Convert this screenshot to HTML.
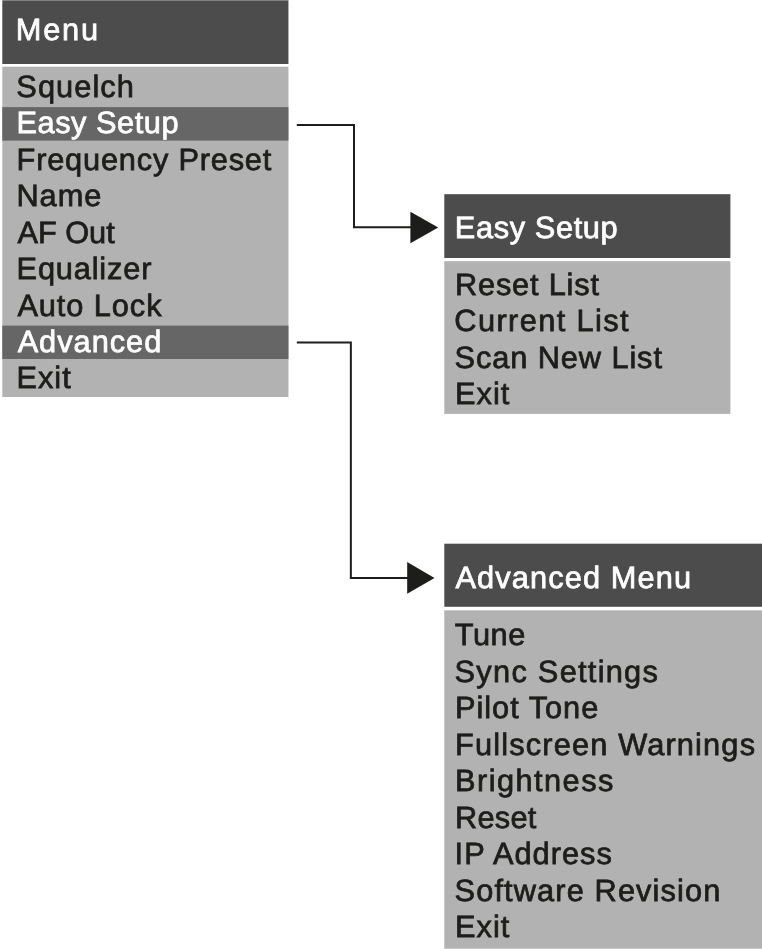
<!DOCTYPE html>
<html lang="en">
<head>
<meta charset="utf-8">
<title>Menu structure</title>
<style>
html,body{margin:0;padding:0;background:#fff;}
body{width:762px;height:949px;position:relative;overflow:hidden;}
#art{position:absolute;left:0;top:0;width:762px;height:949px;display:block;}
#txt{position:absolute;left:0;top:0;width:762px;height:949px;will-change:transform;
  font-family:"Liberation Sans",sans-serif;font-size:30.75px;line-height:30.75px;text-rendering:geometricPrecision;}
#txt ul{margin:0;padding:0;list-style:none;}
#txt h2,#txt li{margin:0;padding:0;font-size:inherit;font-weight:normal;display:block;position:absolute;white-space:nowrap;height:30.75px;color:#1d1d1b;-webkit-text-stroke:0.75px currentColor;}
#txt .w{color:#ffffff;}
</style>
</head>
<body>
<svg id="art" width="762" height="949" viewBox="0 0 762 949">
<rect x="2.3" y="0.3" width="286.15" height="63.7" fill="#4c4c4c"/>
<rect x="2.3" y="66.7" width="286.15" height="330.3" fill="#b2b2b2"/>
<rect x="2.3" y="107.1" width="286.15" height="33.5" fill="#666666"/>
<rect x="2.3" y="325.6" width="286.15" height="33.4" fill="#666666"/>
<rect x="444.3" y="194.2" width="286.1" height="63.8" fill="#4c4c4c"/>
<rect x="444.3" y="261.2" width="286.1" height="152.7" fill="#b2b2b2"/>
<rect x="444.3" y="543.7" width="317.7" height="63.1" fill="#4c4c4c"/>
<rect x="444.3" y="610.3" width="317.7" height="338.4" fill="#b2b2b2"/>
<path d="M296.8 125 H354 V227.25 H412" fill="none" stroke="#1d1d1b" stroke-width="2"/>
<path d="M410.4 211.8 L438.2 227.5 L410.4 243.2 Z" fill="#1d1d1b"/>
<path d="M296.8 342.45 H350.85 V578 H409" fill="none" stroke="#1d1d1b" stroke-width="2"/>
<path d="M407.2 562.1 L434.5 577.9 L407.2 593.7 Z" fill="#1d1d1b"/>
</svg>
<main id="txt">
<section aria-label="Main menu">
<h2 class="w" style="left:15.71px;top:15px;letter-spacing:1.82px">Menu</h2>
<ul>
<li style="left:16.31px;top:72px;letter-spacing:1.07px">Squelch</li>
<li class="w" style="left:16.44px;top:108px;letter-spacing:0.54px">Easy Setup</li>
<li style="left:16.58px;top:145px;letter-spacing:0.80px">Frequency Preset</li>
<li style="left:16.40px;top:181px;letter-spacing:0.99px">Name</li>
<li style="left:17.41px;top:218px;letter-spacing:-0.01px">AF Out</li>
<li style="left:16.58px;top:254px;letter-spacing:0.83px">Equalizer</li>
<li style="left:17.41px;top:291px;letter-spacing:0.92px">Auto Lock</li>
<li class="w" style="left:17.63px;top:327px;letter-spacing:0.98px">Advanced</li>
<li style="left:16.49px;top:363px;letter-spacing:1.00px">Exit</li>
</ul>
</section>
<section aria-label="Easy Setup submenu">
<h2 class="w" style="left:454.82px;top:213px;letter-spacing:0.62px">Easy Setup</h2>
<ul>
<li style="left:455.00px;top:270px;letter-spacing:0.80px">Reset List</li>
<li style="left:454.36px;top:306px;letter-spacing:1.39px">Current List</li>
<li style="left:454.60px;top:343px;letter-spacing:0.90px">Scan New List</li>
<li style="left:455.02px;top:379px;letter-spacing:0.99px">Exit</li>
</ul>
</section>
<section aria-label="Advanced Menu submenu">
<h2 class="w" style="left:455.38px;top:563px;letter-spacing:1.13px">Advanced Menu</h2>
<ul>
<li style="left:454.68px;top:620px;letter-spacing:0.59px">Tune</li>
<li style="left:454.60px;top:657px;letter-spacing:1.27px">Sync Settings</li>
<li style="left:455.01px;top:693px;letter-spacing:0.98px">Pilot Tone</li>
<li style="left:455.00px;top:730px;letter-spacing:1.16px">Fullscreen Warnings</li>
<li style="left:455.00px;top:766px;letter-spacing:1.45px">Brightness</li>
<li style="left:455.02px;top:803px;letter-spacing:0.25px">Reset</li>
<li style="left:454.61px;top:839px;letter-spacing:1.00px">IP Address</li>
<li style="left:454.60px;top:876px;letter-spacing:1.12px">Software Revision</li>
<li style="left:455.02px;top:912px;letter-spacing:0.99px">Exit</li>
</ul>
</section>
</main>
</body>
</html>
